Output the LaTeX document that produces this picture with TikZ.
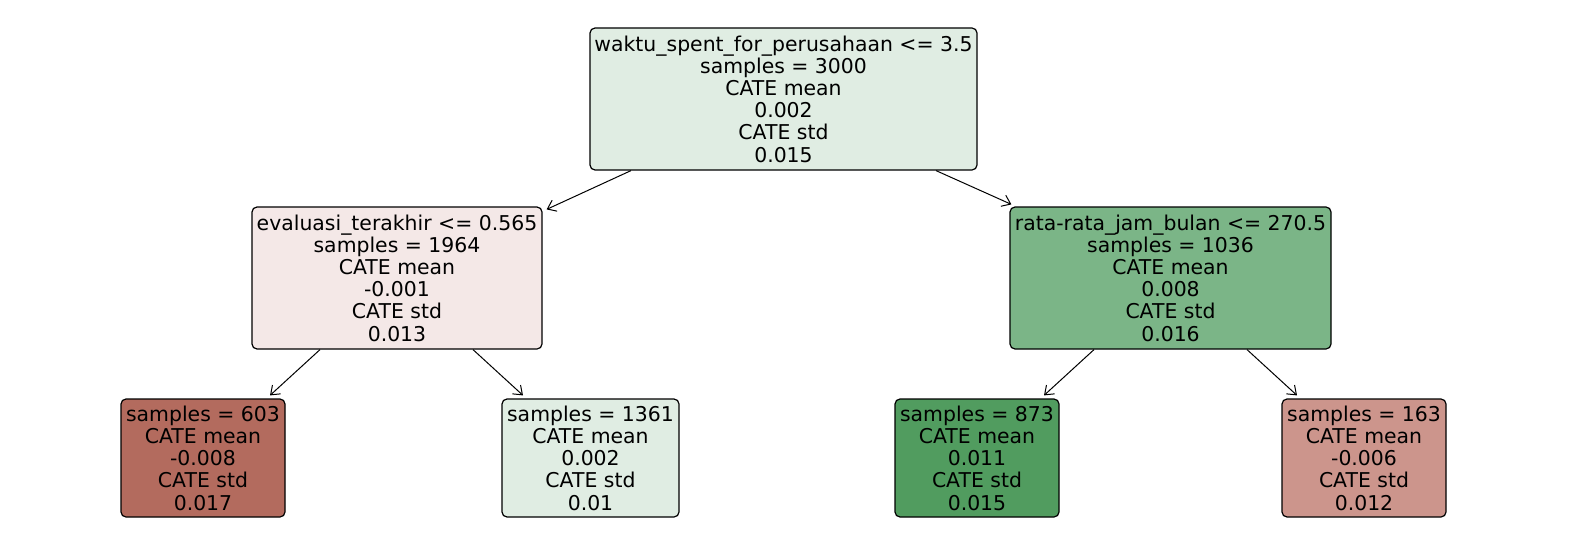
\documentclass[tikz,border=0pt]{standalone}
\usepackage{fontspec}
\setmainfont{DejaVu Sans}
\usetikzlibrary{arrows.meta,calc}
\definecolor{cRoot}{HTML}{E0EDE3}
\definecolor{cEva}{HTML}{F4E8E7}
\definecolor{cRata}{HTML}{7BB587}
\definecolor{cA}{HTML}{B36B5E}
\definecolor{cB}{HTML}{E0EDE3}
\definecolor{cC}{HTML}{519C5F}
\definecolor{cD}{HTML}{CC958C}
\tikzset{
  treebox/.style={draw=black, line width=1.2pt, rounded corners=5pt, align=center,
    inner sep=0pt, font=\fontsize{20.4}{22.2}\selectfont},
  edge/.style={line width=1pt, -{Straight Barb[length=8pt,width=12pt,line width=1pt]}},
}
\begin{document}
\begin{tikzpicture}[x=1pt,y=-1pt]
\useasboundingbox (0,0) rectangle (1570,559);
\node[treebox, fill=cRoot, minimum width=387pt, minimum height=142pt] (root) at (783.5,99)
  {waktu\_spent\_for\_perusahaan <= 3.5\\samples = 3000\\CATE mean\\0.002\\CATE std\\0.015};
\node[treebox, fill=cEva, minimum width=290pt, minimum height=142pt] (eva) at (397,278)
  {evaluasi\_terakhir <= 0.565\\samples = 1964\\CATE mean\\-0.001\\CATE std\\0.013};
\node[treebox, fill=cRata, minimum width=321pt, minimum height=142pt] (rata) at (1170.5,278)
  {rata-rata\_jam\_bulan <= 270.5\\samples = 1036\\CATE mean\\0.008\\CATE std\\0.016};
\node[treebox, fill=cA, minimum width=164pt, minimum height=118pt] (la) at (203,458)
  {samples = 603\\CATE mean\\-0.008\\CATE std\\0.017};
\node[treebox, fill=cB, minimum width=177pt, minimum height=118pt] (lb) at (590.5,458)
  {samples = 1361\\CATE mean\\0.002\\CATE std\\0.01};
\node[treebox, fill=cC, minimum width=164pt, minimum height=118pt] (lc) at (977,458)
  {samples = 873\\CATE mean\\0.011\\CATE std\\0.015};
\node[treebox, fill=cD, minimum width=164pt, minimum height=118pt] (ld) at (1364,458)
  {samples = 163\\CATE mean\\-0.006\\CATE std\\0.012};
\draw[edge] ([xshift=-152.5pt]root.south) -- ([xshift=4pt,yshift=-3pt]eva.north east);
\draw[edge] ([xshift=152.5pt]root.south) -- ([xshift=2pt,yshift=2pt]rata.north west);
\draw[edge] ([xshift=-77pt]eva.south) -- ([xshift=67pt,yshift=3pt]la.north);
\draw[edge] ([xshift=76pt]eva.south) -- ([xshift=-67.5pt,yshift=3pt]lb.north);
\draw[edge] ([xshift=-76.5pt]rata.south) -- ([xshift=67pt,yshift=3pt]lc.north);
\draw[edge] ([xshift=76.5pt]rata.south) -- ([xshift=-67pt,yshift=3pt]ld.north);
\end{tikzpicture}
\end{document}
